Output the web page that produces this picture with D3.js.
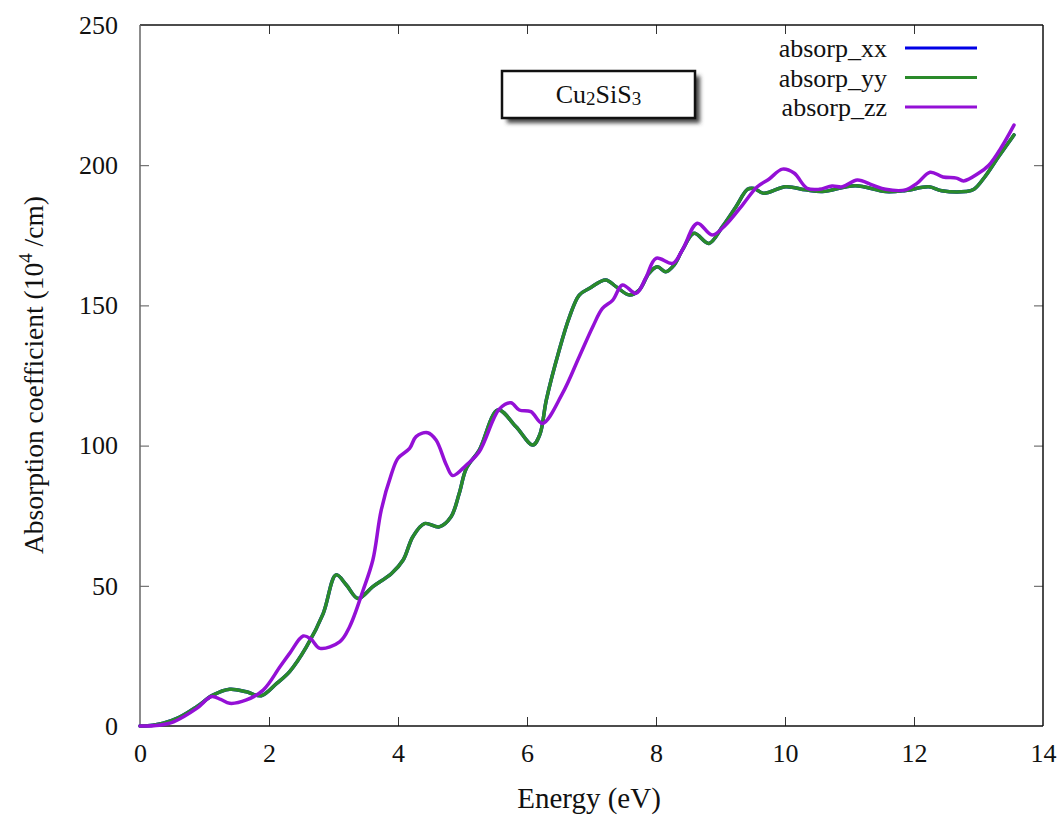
<!DOCTYPE html>
<html>
<head>
<meta charset="utf-8">
<script src="https://cdn.jsdelivr.net/npm/d3@7"></script>
<style>
  body { margin: 0; background: #fff; }
  text { font-family: "Liberation Serif", "Times New Roman", serif; }
</style>
</head>
<body>
<div id="chart"></div>
<script>
// Data (energy in eV, absorption in 10^4/cm)
const energyYY = [0, 0.2, 0.36, 0.6, 0.88, 1.13, 1.39, 1.65, 1.88, 2.12, 2.32, 2.58, 2.84, 3.04, 3.2, 3.38, 3.61, 3.9, 4.08, 4.23, 4.41, 4.64, 4.82, 4.95, 5.06, 5.26, 5.55, 5.83, 6.09, 6.2, 6.3, 6.5, 6.66, 6.81, 6.97, 7.22, 7.38, 7.59, 7.74, 7.89, 8.02, 8.15, 8.28, 8.41, 8.59, 8.82, 9.03, 9.24, 9.42, 9.52, 9.67, 10.01, 10.32, 10.58, 11.09, 11.56, 11.87, 12.23, 12.43, 12.8, 12.93, 13.1, 13.31, 13.55];
const absorpYY = [0, 0.3, 1, 3, 6.9, 11, 13.1, 12.2, 10.8, 15.2, 19.4, 28.2, 40.1, 53.9, 50.3, 45.5, 49.7, 54.4, 59.2, 67.5, 72.2, 71, 74.5, 83, 91.9, 98.4, 112.7, 106.7, 100.2, 104, 116.3, 134.1, 146, 153.7, 156.1, 159.1, 156.7, 153.7, 155.5, 161.4, 163.8, 162, 164.4, 169.8, 175.7, 172.1, 178.1, 185.2, 191.4, 191.7, 190, 192.3, 191.2, 190.6, 192.7, 190.6, 191, 192.3, 190.9, 190.6, 191.4, 195.9, 203, 210.8];

// xx coincides with yy in the picture (hidden underneath)
const energyXX = energyYY.slice();
const absorpXX = absorpYY.slice();

const energyZZ = [0, 0.3, 0.52, 0.88, 1.11, 1.25, 1.39, 1.65, 1.91, 2.17, 2.32, 2.53, 2.65, 2.79, 3.1, 3.25, 3.46, 3.61, 3.74, 3.9, 4.0, 4.18, 4.28, 4.46, 4.59, 4.75, 4.85, 5.06, 5.26, 5.57, 5.75, 5.88, 6.06, 6.24, 6.55, 6.81, 7.02, 7.17, 7.33, 7.48, 7.69, 7.84, 8.0, 8.26, 8.41, 8.64, 8.87, 9.08, 9.34, 9.57, 9.75, 9.96, 10.14, 10.34, 10.53, 10.73, 10.89, 11.12, 11.35, 11.56, 11.87, 12.05, 12.25, 12.45, 12.66, 12.77, 13.0, 13.16, 13.36, 13.55];
const absorpZZ = [0, 0.3, 1.5, 6.3, 10.5, 9.5, 8.1, 9.3, 12.8, 21.1, 25.9, 32.1, 31, 27.7, 30.1, 35.4, 48.5, 59.2, 77, 90, 95.5, 99, 103.2, 104.6, 102, 93.1, 89.3, 93.1, 97.8, 113, 115.3, 112.7, 112.1, 107.9, 118.6, 131.7, 142.4, 148.9, 151.9, 157.3, 154.3, 159.7, 166.8, 165, 169.8, 179.3, 175.1, 178.7, 185.8, 192.3, 195, 198.6, 197.2, 191.8, 191.4, 192.6, 192.3, 194.7, 193, 191.4, 191.2, 193.6, 197.5, 195.8, 195.4, 194.4, 197.1, 200, 206.6, 214.3];

const seriesNames = ["absorp_xx", "absorp_yy", "absorp_zz"];
const seriesColors = ["#0000e6", "#2a8a2a", "#9410d6"];
const xTicks = [0, 2, 4, 6, 8, 10, 12, 14];
const yTicks = [0, 50, 100, 150, 200, 250];

const width = 1061;
const height = 816;
const marginTop = 25;
const marginRight = 18;
const marginBottom = 90;
const marginLeft = 140;

const series = [
  {name: seriesNames[0], color: seriesColors[0], values: d3.zip(energyXX, absorpXX)},
  {name: seriesNames[1], color: seriesColors[1], values: d3.zip(energyYY, absorpYY)},
  {name: seriesNames[2], color: seriesColors[2], values: d3.zip(energyZZ, absorpZZ)}
];

const x = d3.scaleLinear()
    .domain([0, 14])
    .range([marginLeft, width - marginRight]);

const y = d3.scaleLinear()
    .domain([0, 250])
    .range([height - marginBottom, marginTop]);

const svg = d3.select("#chart")
  .append("svg")
    .attr("width", width)
    .attr("height", height)
    .attr("viewBox", [0, 0, width, height]);

const defs = svg.append("defs");
defs.append("filter")
    .attr("id", "blur")
    .attr("x", "-20%").attr("y", "-40%")
    .attr("width", "140%").attr("height", "180%")
  .append("feGaussianBlur")
    .attr("stdDeviation", 2);

// bottom / left axes, ticks pointing inwards
svg.append("g")
    .attr("transform", `translate(0,${y(0)})`)
    .call(d3.axisBottom(x).tickValues(xTicks).tickSizeInner(-9).tickSizeOuter(0).tickPadding(18))
    .call(g => g.select(".domain").remove())
    .call(g => g.selectAll(".tick line").filter(d => d === 0 || d === 14).remove())
    .call(g => g.selectAll("text").attr("font-size", 26).attr("fill", "#111"))
    .call(g => g.selectAll(".tick line").attr("stroke", "#333"));

svg.append("g")
    .attr("transform", `translate(${x(0)},0)`)
    .call(d3.axisLeft(y).tickValues(yTicks).tickSizeInner(-9).tickSizeOuter(0).tickPadding(22))
    .call(g => g.select(".domain").remove())
    .call(g => g.selectAll(".tick line").filter(d => d === 0 || d === 250).remove())
    .call(g => g.selectAll("text").attr("font-size", 26).attr("fill", "#111"))
    .call(g => g.selectAll(".tick line").attr("stroke", "#555"));

// mirrored ticks on top and right
svg.append("g")
    .attr("transform", `translate(0,${y(250)})`)
    .call(d3.axisTop(x).tickValues(xTicks.slice(1, -1)).tickSizeInner(-9).tickSizeOuter(0).tickFormat(""))
    .call(g => g.select(".domain").remove())
    .call(g => g.selectAll(".tick line").attr("stroke", "#333"));

svg.append("g")
    .attr("transform", `translate(${x(14)},0)`)
    .call(d3.axisRight(y).tickValues(yTicks.slice(1, -1)).tickSizeInner(-9).tickSizeOuter(0).tickFormat(""))
    .call(g => g.select(".domain").remove())
    .call(g => g.selectAll(".tick line").attr("stroke", "#555"));

// frame
const frame = svg.append("g").attr("fill", "none").attr("stroke-width", 1.5);
frame.append("line").attr("x1", x(0)).attr("x2", x(14)).attr("y1", y(250)).attr("y2", y(250)).attr("stroke", "#111");
frame.append("line").attr("x1", x(0)).attr("x2", x(14)).attr("y1", y(0)).attr("y2", y(0)).attr("stroke", "#111");
frame.append("line").attr("x1", x(14)).attr("x2", x(14)).attr("y1", y(250)).attr("y2", y(0)).attr("stroke", "#111");
frame.append("line").attr("x1", x(0)).attr("x2", x(0)).attr("y1", y(250)).attr("y2", y(0)).attr("stroke", "#666");

// curves
const line = d3.line()
    .x(d => x(d[0]))
    .y(d => y(d[1]))
    .curve(d3.curveCatmullRom.alpha(0.5));

svg.append("g")
  .selectAll("path")
  .data(series)
  .join("path")
    .attr("fill", "none")
    .attr("stroke", d => d.color)
    .attr("stroke-width", 3.5)
    .attr("stroke-linejoin", "round")
    .attr("stroke-linecap", "round")
    .attr("d", d => line(d.values));

// legend
const legend = svg.append("g")
  .selectAll("g")
  .data(series)
  .join("g")
    .attr("transform", (d, i) => `translate(0,${48 + i * 29.5})`);

legend.append("text")
    .attr("x", 887)
    .attr("y", 9)
    .attr("text-anchor", "end")
    .attr("font-size", 26)
    .attr("fill", "#111")
    .text(d => d.name);

legend.append("line")
    .attr("x1", 905)
    .attr("x2", 977)
    .attr("stroke", d => d.color)
    .attr("stroke-width", 3);

// compound label box with shadow
const box = svg.append("g");
box.append("rect")
    .attr("x", 507).attr("y", 76)
    .attr("width", 193).attr("height", 47)
    .attr("fill", "#444")
    .attr("filter", "url(#blur)");
box.append("rect")
    .attr("x", 502).attr("y", 71)
    .attr("width", 193).attr("height", 47)
    .attr("fill", "#fff")
    .attr("stroke", "#111")
    .attr("stroke-width", 2.5);
const formula = box.append("text")
    .attr("x", 598.5)
    .attr("y", 103)
    .attr("text-anchor", "middle")
    .attr("font-size", 26)
    .attr("fill", "#111");
formula.append("tspan").text("Cu");
formula.append("tspan").attr("font-size", 19).attr("dy", 2).text("2");
formula.append("tspan").attr("dy", -2).text("SiS");
formula.append("tspan").attr("font-size", 19).attr("dy", 2).text("3");

// axis titles
svg.append("text")
    .attr("x", 589)
    .attr("y", 808)
    .attr("text-anchor", "middle")
    .attr("font-size", 29)
    .attr("fill", "#111")
    .text("Energy (eV)");

const yTitle = svg.append("text")
    .attr("transform", "translate(43,375) rotate(-90)")
    .attr("text-anchor", "middle")
    .attr("font-size", 27.5)
    .attr("fill", "#111");
yTitle.append("tspan").text("Absorption coefficient (10");
yTitle.append("tspan").attr("font-size", 19).attr("dy", -11).text("4");
yTitle.append("tspan").attr("dy", 11).text(" /cm)");
</script>
</body>
</html>
